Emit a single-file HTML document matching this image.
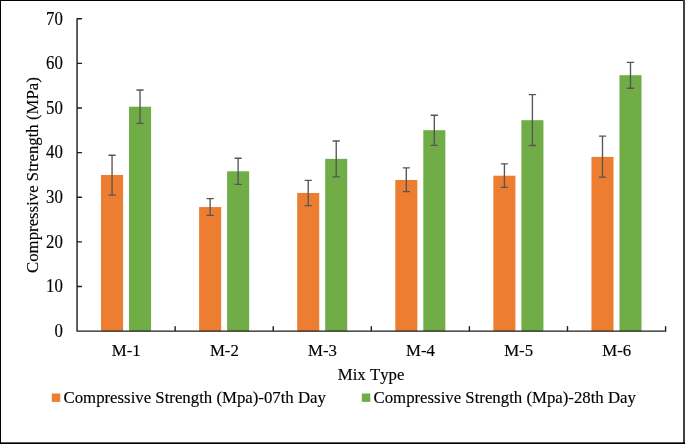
<!DOCTYPE html>
<html><head><meta charset="utf-8"><title>Chart</title>
<style>
html,body{margin:0;padding:0;background:#fff;}
body{width:685px;height:444px;overflow:hidden;position:relative;font-family:"Liberation Serif",serif;}
svg{position:absolute;left:0;top:0;display:block;will-change:transform;transform:translateZ(0);}
text{font-family:"Liberation Serif",serif;fill:#000;stroke:#000;stroke-width:0.15px;}
</style></head><body>
<svg width="685" height="444" viewBox="0 0 685 444">

<rect x="101.02" y="175.00" width="22.05" height="156.15" fill="#ED7D31"/>
<rect x="129.02" y="106.70" width="22.05" height="224.45" fill="#70AD47"/>
<path d="M112.05 155.20V195.10M108.95 155.20H115.14M108.95 195.10H115.14" stroke="#565656" stroke-width="1.35" stroke-linecap="round" fill="none"/>
<path d="M140.04 90.00V123.40M136.94 90.00H143.14M136.94 123.40H143.14" stroke="#565656" stroke-width="1.35" stroke-linecap="round" fill="none"/>
<rect x="199.11" y="207.06" width="22.05" height="124.09" fill="#ED7D31"/>
<rect x="227.11" y="171.30" width="22.05" height="159.85" fill="#70AD47"/>
<path d="M210.13 198.60V215.40M207.03 198.60H213.23M207.03 215.40H213.23" stroke="#565656" stroke-width="1.35" stroke-linecap="round" fill="none"/>
<path d="M238.13 158.20V184.40M235.03 158.20H241.23M235.03 184.40H241.23" stroke="#565656" stroke-width="1.35" stroke-linecap="round" fill="none"/>
<rect x="297.20" y="192.96" width="22.05" height="138.19" fill="#ED7D31"/>
<rect x="325.20" y="158.87" width="22.05" height="172.28" fill="#70AD47"/>
<path d="M308.23 180.30V205.60M305.12 180.30H311.33M305.12 205.60H311.33" stroke="#565656" stroke-width="1.35" stroke-linecap="round" fill="none"/>
<path d="M336.23 141.00V176.90M333.12 141.00H339.33M333.12 176.90H339.33" stroke="#565656" stroke-width="1.35" stroke-linecap="round" fill="none"/>
<rect x="395.29" y="179.95" width="22.05" height="151.20" fill="#ED7D31"/>
<rect x="423.29" y="130.20" width="22.05" height="200.95" fill="#70AD47"/>
<path d="M406.31 167.80V191.65M403.21 167.80H409.42M403.21 191.65H409.42" stroke="#565656" stroke-width="1.35" stroke-linecap="round" fill="none"/>
<path d="M434.31 115.20V145.30M431.21 115.20H437.42M431.21 145.30H437.42" stroke="#565656" stroke-width="1.35" stroke-linecap="round" fill="none"/>
<rect x="493.38" y="175.70" width="22.05" height="155.45" fill="#ED7D31"/>
<rect x="521.38" y="120.20" width="22.05" height="210.95" fill="#70AD47"/>
<path d="M504.41 163.80V187.30M501.31 163.80H507.51M501.31 187.30H507.51" stroke="#565656" stroke-width="1.35" stroke-linecap="round" fill="none"/>
<path d="M532.41 94.60V145.50M529.31 94.60H535.51M529.31 145.50H535.51" stroke="#565656" stroke-width="1.35" stroke-linecap="round" fill="none"/>
<rect x="591.47" y="156.90" width="22.05" height="174.25" fill="#ED7D31"/>
<rect x="619.47" y="75.20" width="22.05" height="255.95" fill="#70AD47"/>
<path d="M602.50 136.10V177.10M599.39 136.10H605.60M599.39 177.10H605.60" stroke="#565656" stroke-width="1.35" stroke-linecap="round" fill="none"/>
<path d="M630.50 62.40V88.20M627.39 62.40H633.60M627.39 88.20H633.60" stroke="#565656" stroke-width="1.35" stroke-linecap="round" fill="none"/>
<path d="M77.05 18.8V331.15H665.5M77.05 331.15h4.4M77.05 286.53h4.4M77.05 241.91h4.4M77.05 197.29h4.4M77.05 152.66h4.4M77.05 108.04h4.4M77.05 63.42h4.4M77.05 18.80h4.4M77.05 331.15v-4.4M175.14 331.15v-4.4M273.23 331.15v-4.4M371.32 331.15v-4.4M469.41 331.15v-4.4M567.50 331.15v-4.4M665.59 331.15v-4.4" stroke="#1c1c1c" stroke-width="1.4" fill="none" stroke-linejoin="round" stroke-linecap="round"/>
<text transform="translate(62.8,336.90) scale(1,1.06)" font-size="16.8" text-anchor="end">0</text>
<text transform="translate(62.8,292.28) scale(1,1.06)" font-size="16.8" text-anchor="end">10</text>
<text transform="translate(62.8,247.66) scale(1,1.06)" font-size="16.8" text-anchor="end">20</text>
<text transform="translate(62.8,203.04) scale(1,1.06)" font-size="16.8" text-anchor="end">30</text>
<text transform="translate(62.8,158.41) scale(1,1.06)" font-size="16.8" text-anchor="end">40</text>
<text transform="translate(62.8,113.79) scale(1,1.06)" font-size="16.8" text-anchor="end">50</text>
<text transform="translate(62.8,69.17) scale(1,1.06)" font-size="16.8" text-anchor="end">60</text>
<text transform="translate(62.8,24.55) scale(1,1.06)" font-size="16.8" text-anchor="end">70</text>
<text x="126.25" y="355.6" font-size="16.8" text-anchor="middle">M-1</text>
<text x="224.34" y="355.6" font-size="16.8" text-anchor="middle">M-2</text>
<text x="322.43" y="355.6" font-size="16.8" text-anchor="middle">M-3</text>
<text x="420.51" y="355.6" font-size="16.8" text-anchor="middle">M-4</text>
<text x="518.61" y="355.6" font-size="16.8" text-anchor="middle">M-5</text>
<text x="616.69" y="355.6" font-size="16.8" text-anchor="middle">M-6</text>
<text x="371.1" y="380.0" style="font-kerning:none" font-size="16.8" text-anchor="middle">Mix Type</text>
<text transform="translate(37.85,175.1) rotate(-90)" font-size="16.8" text-anchor="middle">Compressive Strength (MPa)</text>
<rect x="51.8" y="393.5" width="8.5" height="8.4" fill="#ED7D31"/>
<text x="63.5" y="402.9" font-size="16.8">Compressive Strength (Mpa)-07th Day</text>
<rect x="361.8" y="393.5" width="8.5" height="8.4" fill="#70AD47"/>
<text x="373.5" y="402.9" font-size="16.8">Compressive Strength (Mpa)-28th Day</text>
<rect x="0" y="0" width="685" height="1" fill="#000"/>
<rect x="0" y="0" width="1" height="444" fill="#000"/>
<rect x="683" y="0" width="2" height="444" fill="#404040"/>
<rect x="0" y="442.35" width="685" height="1.65" fill="#000"/>
</svg></body></html>
